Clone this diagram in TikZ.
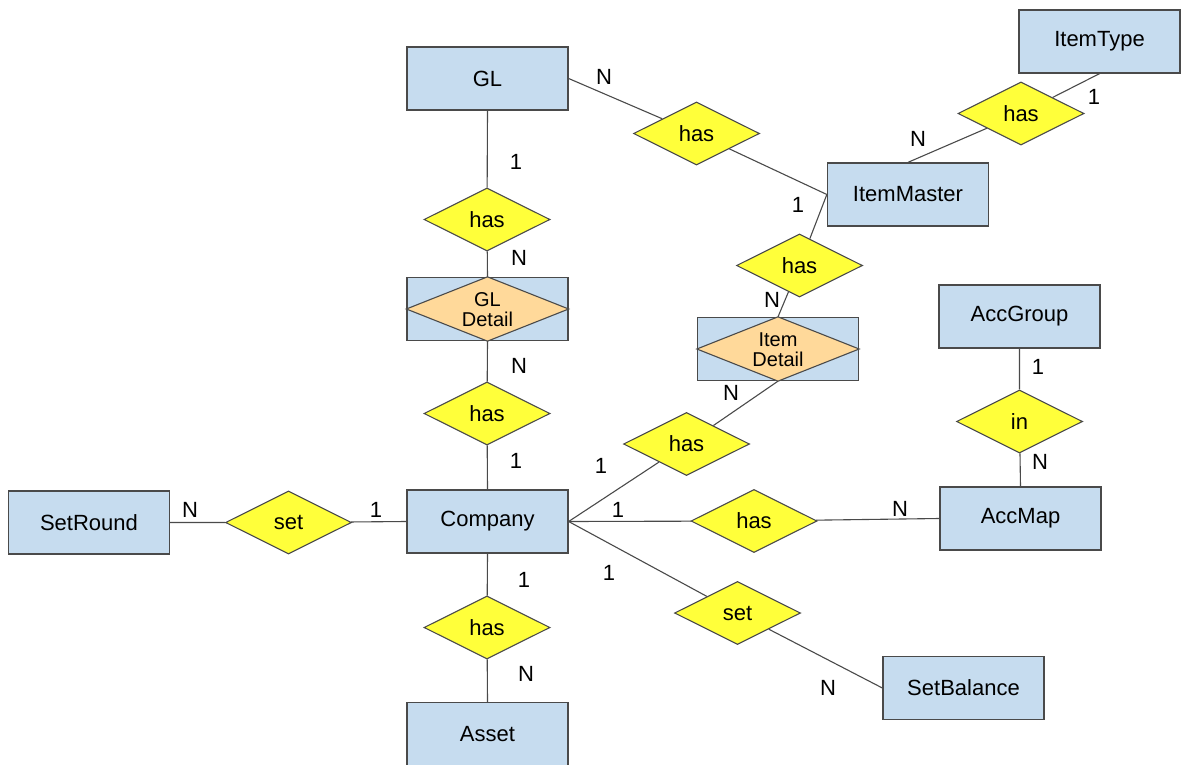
\documentclass[tikz,border=0pt]{standalone}
\usepackage{fontspec}
\setmainfont{Liberation Sans}
\usetikzlibrary{shapes.geometric}
\definecolor{entfill}{HTML}{C6DCEF}
\definecolor{relfill}{HTML}{FFFF3A}
\definecolor{detfill}{HTML}{FFD99A}
\definecolor{edge}{HTML}{4A4A4A}
\tikzset{
  ent/.style={rectangle, draw=edge, line width=1.3pt, fill=entfill, minimum width=161pt, minimum height=63pt, inner sep=0pt, font=\fontsize{22}{24}\selectfont},
  rel/.style={diamond, draw=edge, line width=1.1pt, fill=relfill, minimum width=126pt, minimum height=63pt, inner sep=0pt, font=\fontsize{22}{24}\selectfont},
  detdia/.style={draw=edge, line width=1.1pt, fill=detfill},
  dettext/.style={align=center, inner sep=0pt, font=\fontsize{20}{20}\selectfont},
  card/.style={inner sep=0pt, font=\fontsize{22}{24}\selectfont},
  conn/.style={draw=edge, line width=1.1pt}
}
\begin{document}
\begin{tikzpicture}[x=1pt,y=-1pt]
\useasboundingbox (0,0) rectangle (1181,765);
% entities
\node[ent] (gl) at (487.5,78.5) {GL};
\node[ent] (itype) at (1099.5,41.5) {ItemType};
\node[ent] (imaster) at (908,194.5) {ItemMaster};
\node[ent] (accgroup) at (1019.5,316.5) {AccGroup};
\node[ent] (setround) at (89,522.5) {SetRound};
\node[ent] (company) at (487.5,521.5) {Company};
\node[ent] (accmap) at (1020.5,518.5) {AccMap};
\node[ent] (setbal) at (963.5,688) {SetBalance};
\node[ent] (asset) at (487.5,734) {Asset};
% weak / associative entities
\node[ent] (gldet) at (487.5,309) {};
\draw[detdia] (gldet.west) -- (gldet.north) -- (gldet.east) -- (gldet.south) -- cycle;
\node[dettext] (gldett) at (487.5,310) {GL\\Detail};
\node[ent] (itdet) at (778,349) {};
\draw[detdia] (itdet.west) -- (itdet.north) -- (itdet.east) -- (itdet.south) -- cycle;
\node[dettext] (itdett) at (778,350) {Item\\Detail};
% relationships
\node[rel] (r1) at (487,219.5) {has};
\node[rel] (r2) at (696.5,133.5) {has};
\node[rel] (r3) at (1021,113.5) {has};
\node[rel] (r4) at (799.5,265.5) {has};
\node[rel] (r5) at (1019.5,421.5) {in};
\node[rel] (r6) at (487,413.5) {has};
\node[rel] (r7) at (686.5,444) {has};
\node[rel] (r8) at (754,521) {has};
\node[rel] (r9) at (288.5,522.5) {set};
\node[rel] (r10) at (487,627.5) {has};
\node[rel] (r11) at (737.5,613) {set};
% connectors
\draw[conn] (gl.south) -- (r1) -- (gldet.north);
\draw[conn] (gldet.south) -- (r6) -- (company.north);
\draw[conn] (gl.east) -- (r2) -- (imaster.west);
\draw[conn] (itype.south) -- (r3) -- (imaster.north);
\draw[conn] (imaster.west) -- (r4) -- (itdet.north);
\draw[conn] (itdet.south) -- (r7) -- (company.east);
\draw[conn] (company.east) -- (r8) -- (accmap.west);
\draw[conn] (company.east) -- (r11) -- (setbal.west);
\draw[conn] (setround.east) -- (r9) -- (company.west);
\draw[conn] (company.south) -- (r10) -- (asset.north);
\draw[conn] (accgroup.south) -- (r5) -- (accmap.north);
% cardinalities
\node[card] (c1) at (604,77) {N};
\node[card] (c2) at (516,162) {1};
\node[card] (c3) at (519,258) {N};
\node[card] (c4) at (519,366) {N};
\node[card] (c5) at (516,461) {1};
\node[card] (c6) at (1094,97) {1};
\node[card] (c7) at (918,139) {N};
\node[card] (c8) at (798,205) {1};
\node[card] (c9) at (772,300) {N};
\node[card] (c10) at (731,393) {N};
\node[card] (c11) at (601,466) {1};
\node[card] (c12) at (618,510) {1};
\node[card] (c13) at (900,509) {N};
\node[card] (c14) at (1038,367) {1};
\node[card] (c15) at (1040,462) {N};
\node[card] (c16) at (190,510) {N};
\node[card] (c17) at (376,510) {1};
\node[card] (c18) at (524,580) {1};
\node[card] (c19) at (526,674) {N};
\node[card] (c20) at (609,573) {1};
\node[card] (c21) at (828,688) {N};
\end{tikzpicture}
\end{document}
